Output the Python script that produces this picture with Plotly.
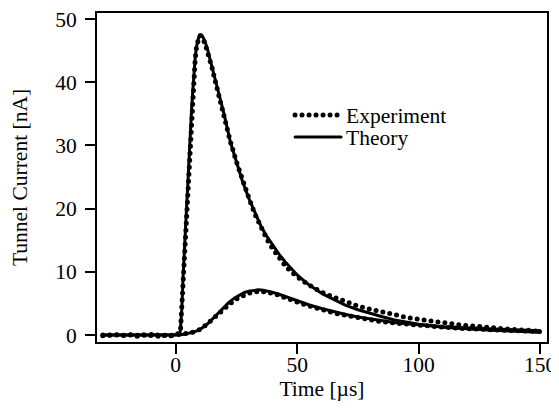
import plotly.graph_objects as go

# ---------------- data ----------------
# Experiment, fast (large) pulse
exp_fast_t = [-30, -28, -26, -24, -22, -20, -18, -16, -14, -12, -10, -8, -6, -4, -2, 0, 1, 1.5,
              2, 2.5, 3, 3.5, 4, 4.5, 5, 5.5, 6, 6.5, 7, 7.5, 8, 8.5, 9, 9.5, 10, 10.5,
              11, 12, 13, 14, 15, 16, 17, 18, 19, 20, 22.5, 25, 27.5, 30, 32.5, 35, 37.5,
              40, 42.5, 45, 47.5, 50, 52.5, 55, 57.5, 60, 65, 70, 75, 80, 85, 90, 95, 100,
              105, 110, 115, 120, 125, 130, 135, 140, 145, 150]
exp_fast_i = [0.0, -0.1, 0.1, 0.0, -0.1, 0.1, 0.0, -0.2, 0.1, 0.0, -0.1, 0.1, -0.2, 0.0, -0.1, 0.1, 0.2, 0.3,
              1.0, 4.5, 9.5, 13.5, 17.5, 21.0, 24.5, 28.5, 32.3, 35.6, 38.6, 41.4, 43.6, 45.4, 46.5, 47.1, 47.4, 47.3,
              47.0, 46.2, 45.0, 43.6, 42.2, 40.6, 39.0, 37.5, 36.1, 34.5, 30.6, 27.4, 24.4, 21.8, 19.2, 17.0, 15.2,
              13.6, 12.2, 11.0, 10.0, 9.2, 8.5, 7.9, 7.3, 6.8, 6.0, 5.2, 4.6, 4.1, 3.6, 3.2, 2.8, 2.5,
              2.2, 1.9, 1.7, 1.5, 1.3, 1.15, 1.0, 0.85, 0.75, 0.6]

# Experiment, slow (small) pulse
exp_slow_t = [-30, -27.5, -25, -22.5, -20, -17.5, -15, -12.5, -10, -7.5, -5, -2.5, 0, 2.5, 5, 7.5,
              10, 12.5, 15, 17.5, 20, 22.5, 25, 27.5, 30, 32.5, 35, 37.5, 40, 42.5, 45, 47.5,
              50, 52.5, 55, 57.5, 60, 65, 70, 75, 80, 85, 90, 95, 100, 110, 120, 130, 140, 150]
exp_slow_i = [-0.1, 0.0, 0.1, -0.1, 0.0, 0.1, -0.1, 0.0, 0.1, -0.2, 0.0, -0.1, 0.1, 0.2, 0.3, 0.5,
              0.9, 1.6, 2.5, 3.4, 4.3, 5.0, 5.7, 6.2, 6.6, 6.8, 6.9, 6.8, 6.6, 6.3, 5.9, 5.5,
              5.2, 4.9, 4.6, 4.3, 4.0, 3.5, 3.1, 2.7, 2.4, 2.1, 1.9, 1.7, 1.5, 1.25, 1.0, 0.85, 0.7, 0.55]

# Theory, fast pulse
th_fast_t = [-30, 0, 1.8, 2.5, 3, 3.5, 4, 4.5, 5, 5.5, 6, 6.5, 7, 7.5, 8, 8.5, 9, 9.5, 10, 10.3,
             11, 12, 13, 14, 15, 16, 17, 18, 19, 20, 22.5, 25, 27.5, 30, 32.5, 35, 37.5, 40,
             42.5, 45, 47.5, 50, 52.5, 55, 60, 65, 70, 75, 80, 85, 90, 95, 100, 110, 120, 130, 140, 150]
th_fast_i = [0.0, 0.0, 0.3, 4.0, 9.0, 13.5, 17.0, 20.5, 24.0, 28.5, 32.5, 35.5, 38.5, 41.5, 43.8, 45.5, 46.6, 47.2, 47.5, 47.5,
             47.3, 46.5, 45.3, 43.9, 42.4, 40.8, 39.3, 37.8, 36.3, 34.8, 30.5, 27.2, 24.3, 21.7, 19.4, 17.3, 15.6, 14.1,
             12.8, 11.6, 10.5, 9.5, 8.7, 7.9, 6.6, 5.6, 4.7, 4.0, 3.4, 2.9, 2.4, 2.0, 1.7, 1.25, 0.95, 0.75, 0.6, 0.45]

# Theory, slow pulse
th_slow_t = [-30, 0, 2, 4, 6, 8, 10, 12, 14, 16, 18, 20, 22, 24, 26, 28, 30, 32, 34, 36, 38, 40,
             42.5, 45, 47.5, 50, 55, 60, 65, 70, 75, 80, 85, 90, 95, 100, 110, 120, 130, 140, 150]
th_slow_i = [0.0, 0.0, 0.05, 0.15, 0.3, 0.55, 0.9, 1.4, 2.1, 2.9, 3.7, 4.5, 5.2, 5.8, 6.3, 6.7, 6.95, 7.1, 7.15, 7.1, 6.95, 6.75,
             6.45, 6.1, 5.75, 5.4, 4.75, 4.2, 3.7, 3.25, 2.85, 2.55, 2.25, 2.0, 1.8, 1.6, 1.3, 1.05, 0.85, 0.7, 0.6]

x_ticks = [0, 50, 100, 150]
y_ticks = [0, 10, 20, 30, 40, 50]

# ---------------- figure ----------------
FONT = "Liberation Serif, Times New Roman, serif"
FS = 21.5
BLACK = "#000000"
dot_line = dict(color=BLACK, width=5, dash="0px,7px")
solid_line = dict(color=BLACK, width=3)

fig = go.Figure()
fig.add_trace(go.Scatter(x=exp_fast_t, y=exp_fast_i, mode="lines", line=dot_line,
                         name="Experiment", legend="legend", showlegend=True))
fig.add_trace(go.Scatter(x=exp_slow_t, y=exp_slow_i, mode="lines", line=dot_line,
                         name="Experiment", showlegend=False))
fig.add_trace(go.Scatter(x=th_fast_t, y=th_fast_i, mode="lines", line=solid_line,
                         name="Theory", legend="legend2", showlegend=True))
fig.add_trace(go.Scatter(x=th_slow_t, y=th_slow_i, mode="lines", line=solid_line,
                         name="Theory", showlegend=False))

axis_common = dict(showline=True, linecolor=BLACK, linewidth=2, mirror=True,
                   ticks="outside", ticklen=10, tickwidth=1.5, tickcolor=BLACK,
                   showgrid=False, zeroline=False, automargin=False,
                   ticklabeloverflow="allow",
                   tickfont=dict(family=FONT, size=FS, color=BLACK))

# the page body has an 8px margin, so the figure is 8px smaller and margins compensate
fig.update_layout(
    template="none",
    width=551, height=403,
    margin=dict(l=89, r=12, t=5, b=69, autoexpand=False),
    paper_bgcolor="white", plot_bgcolor="white",
    font=dict(family=FONT, size=FS, color=BLACK),
    xaxis=dict(range=[-32.4, 152.8], tickmode="array", tickvals=x_ticks, ticklabelstandoff=-8,
               title=dict(text="Time [µs]", font=dict(family=FONT, size=FS, color=BLACK), standoff=4),
               **axis_common),
    yaxis=dict(range=[-1.1, 50.95], tickmode="array", tickvals=y_ticks, ticklabelstandoff=4,
               title=dict(text="Tunnel Current [nA]", font=dict(family=FONT, size=FS, color=BLACK), standoff=24),
               **axis_common),
    legend=dict(x=0.429, y=0.69, xanchor="left", yanchor="middle", itemwidth=46,
                bgcolor="rgba(0,0,0,0)", borderwidth=0,
                font=dict(family=FONT, size=FS, color=BLACK)),
    legend2=dict(x=0.429, y=0.623, xanchor="left", yanchor="middle", itemwidth=46,
                 bgcolor="rgba(0,0,0,0)", borderwidth=0,
                 font=dict(family=FONT, size=FS, color=BLACK)),
)

post = ("var s=document.createElement('style');"
        "s.textContent='.js-line{stroke-linecap:round !important;stroke-linejoin:round !important;}';"
        "document.head.appendChild(s);")
fig.write_html("out.html", post_script=post)
